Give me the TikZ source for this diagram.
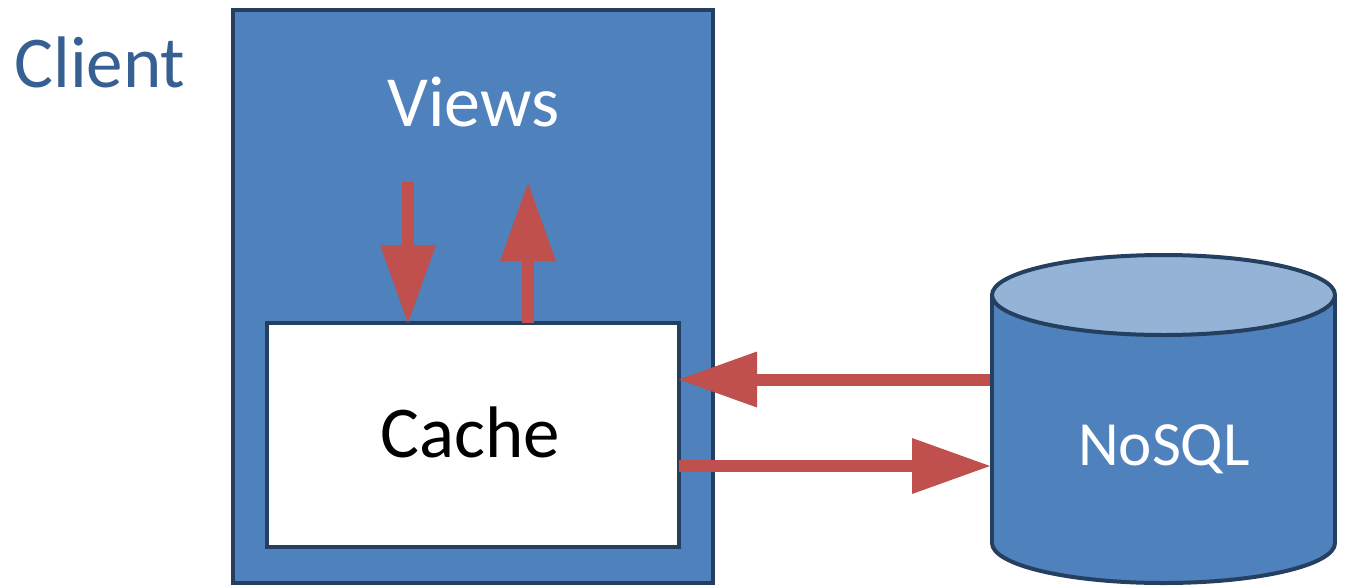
\documentclass[tikz,border=0pt]{standalone}
\usepackage{fontspec}
\setmainfont{Carlito}
\usetikzlibrary{arrows.meta}
\definecolor{boxblue}{HTML}{4F81BD}
\definecolor{edgenavy}{HTML}{243F60}
\definecolor{arrowred}{HTML}{C0504D}
\definecolor{topblue}{HTML}{95B3D7}
\definecolor{clienttext}{HTML}{376092}
\begin{document}
\begin{tikzpicture}[x=1pt,y=-1pt,
  frame/.style={draw=edgenavy, line width=4pt, inner sep=0pt, outer sep=0pt},
  flow/.style={draw=arrowred, line width=12pt,
    -{Triangle[width=56pt,length=78pt,line width=0pt]}, arrowred},
  lbl/.style={inner sep=0pt, anchor=base}]
\useasboundingbox (0,0) rectangle (1349,587);
% client box
\node[frame, fill=boxblue, minimum width=480pt, minimum height=573pt, anchor=north west] (client) at (233,10) {};
% cache box
\node[frame, fill=white, minimum width=412pt, minimum height=224pt, anchor=north west] (cache) at (267,323) {};
% database cylinder
\node[minimum width=347pt, minimum height=332pt, inner sep=0pt, outer sep=0pt] (db) at (1163.5,419) {};
\filldraw[fill=boxblue, draw=edgenavy, line width=4pt] (1163.5,543) ellipse [x radius=171.5, y radius=40];
\fill[boxblue] (992,295) rectangle (1335,543);
\draw[edgenavy, line width=4pt] (992,295) -- (992,543) (1335,295) -- (1335,543);
\filldraw[fill=topblue, draw=edgenavy, line width=4pt] (1163.5,295) ellipse [x radius=171.5, y radius=40];
% labels
\node[lbl, text=clienttext, font=\fontsize{73}{80}\selectfont] (clientlbl) at (100,87) {Client};
\node[lbl, text=white, font=\fontsize{72}{80}\selectfont] (views) at (473.5,126) {Views};
\node[lbl, text=black, font=\fontsize{73}{80}\selectfont] (cachelbl) at (470,457) {Cache};
\node[lbl, text=white, font=\fontsize{63}{70}\selectfont] (nosql) at (1164,465) {NoSQL};
% arrows
\coordinate (vdown) at (408,182);
\coordinate (vup) at (528,183);
\draw[flow] (vdown) -- (cache.north -| 408,0);
\draw[flow] (cache.north -| 528,0) -- (vup);
\draw[flow] (db.west |- 0,379.5) -- (cache.east |- 0,379.5);
\draw[flow] (cache.east |- 0,466) -- (db.west |- 0,466);
\end{tikzpicture}
\end{document}
